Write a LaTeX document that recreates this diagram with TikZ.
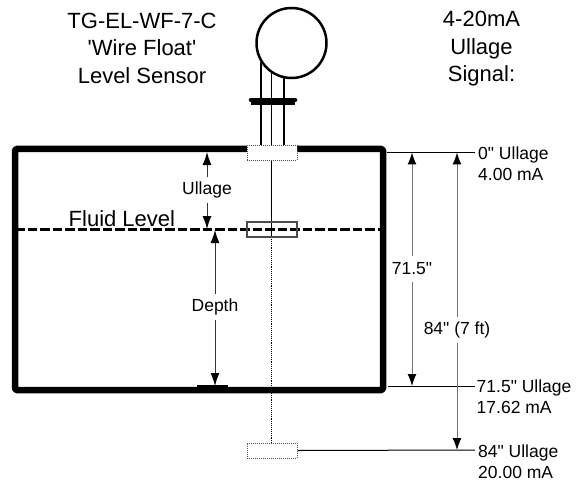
\documentclass[tikz,border=0pt]{standalone}
\usepackage{fontspec}
\setmainfont{Liberation Sans}[Ligatures=TeXOff]
\usetikzlibrary{arrows.meta}
\tikzset{
  title/.style={align=center,font=\fontsize{22}{27.5}\selectfont,inner sep=0pt},
  lab/.style={font=\fontsize{17.5}{17.5}\selectfont,inner xsep=0pt,inner ysep=0pt,minimum height=26pt,fill=white},
  side/.style={align=left,font=\fontsize{17.5}{21.3}\selectfont,inner sep=0pt,anchor=west},
  wall/.style={line width=6.5pt,line join=round},
  dim/.style={line width=1pt,draw=black!55,{Latex[length=12pt,width=9pt,black]}-{Latex[length=12pt,width=9pt,black]}},
  fdim/.style={line width=1pt,draw=black!80,{Latex[length=13pt,width=9pt,black]}-{Latex[length=13pt,width=9pt,black]}},
  leader/.style={line width=1pt},
  sensorbox/.style={draw=black!70,densely dotted,fill=white,line width=1pt,minimum width=50pt,minimum height=15pt,inner sep=0pt},
  floatbox/.style={draw=black!70,line width=1.2pt,minimum width=50pt,minimum height=15pt,inner sep=0pt},
}
\begin{document}
\begin{tikzpicture}[x=1pt,y=-1pt]
\useasboundingbox (0,0) rectangle (580,481);
% stem
\coordinate (stemtop) at (271.5,60);
\coordinate (stembot) at (271.5,443);
\coordinate (stemmid) at (271.5,237);
\draw[line width=0.9pt] (stemtop) -- (stemmid);
\draw[line width=0.9pt,densely dotted] (stemmid) -- (stembot);
% pipes
\draw[line width=2.5pt] (261,62) -- (261,146) (284,78) -- (284,146);
\draw[line width=3.5pt,line cap=round] (250.5,100) -- (295.5,100);
\draw[line width=3pt] (251,104) -- (295,104);
\node[circle,draw,fill=white,line width=2.5pt,minimum size=70pt,inner sep=0pt] (head) at (291.5,43) {};
% tank
\draw[wall,rounded corners=1.5pt] (15,149) rectangle (383,390);
\draw[line width=3pt] (197,386.5) -- (228,386.5);
% fluid level
\draw[line width=2.2pt,dash pattern=on 9.5pt off 3pt] (15,229.5) -- (381,229.5);
\node[anchor=base west,inner sep=0pt,font=\fontsize{22}{24}\selectfont] (fluid) at (68.5,226) {Fluid Level};
% sensors
\node[sensorbox] (top) at (272,153) {};
\node[floatbox] (float) at (272,229.5) {};
\node[sensorbox] (bot) at (272,450.5) {};
% title nodes
\node[title] (t1) at (142,48) {TG-EL-WF-7-C\\'Wire Float'\\Level Sensor};
\node[title] (t2) at (481.5,49) {4-20mA\\Ullage\\Signal:};
% leaders
\coordinate (l0) at (387,152.5);
\coordinate (l1) at (388,386);
\node[side] (s0) at (478,163.5) {0" Ullage\\4.00 mA};
\node[side] (s1) at (476.5,397) {71.5" Ullage\\17.62 mA};
\node[side] (s2) at (478,461.5) {84" Ullage\\20.00 mA};
\coordinate (e0) at (475,152.5);
\coordinate (e1) at (475,386);
\coordinate (e2) at (475,450);
\draw[leader] (l0) -- (e0);
\draw[leader] (l1) -- (e1);
\draw[leader] (bot.east) -- (e2);
% dimensions
\coordinate (a0) at (412,152.5);
\coordinate (a1) at (412,386);
\coordinate (b0) at (457,152.5);
\coordinate (b1) at (457,450);
\draw[dim] (a0) -- (a1);
\draw[dim] (b0) -- (b1);
\node[lab] (d1) at (412,269) {71.5"};
\node[lab] (d2) at (457,329.5) {84" (7 ft)};
\coordinate (u0) at (207,152);
\coordinate (u1) at (207,229);
\coordinate (f0) at (215,230);
\coordinate (f1) at (215,386);
\draw[fdim] (u0) -- (u1);
\draw[fdim] (f0) -- (f1);
\node[lab] (ull) at (207,190) {Ullage};
\node[lab] (dep) at (215,307) {Depth};
\end{tikzpicture}
\end{document}
